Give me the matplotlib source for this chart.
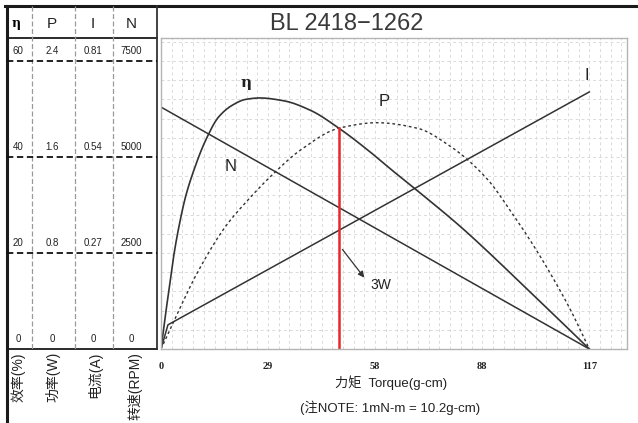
import matplotlib
matplotlib.use('Agg')
import matplotlib.pyplot as plt
import numpy as np

plt.rcParams['font.family'] = ['Liberation Sans', 'Noto Sans CJK SC', 'DejaVu Sans']

W, H = 638, 423

# left-hand scale table, top row first
eff_levels = [60, 40, 20, 0]
power_labels = ['2.4', '1.6', '0.8', '0']
current_labels = ['0.81', '0.54', '0.27', '0']
speed_labels = ['7500', '5000', '2500', '0']
eff_full, power_full, current_full, speed_full = 60, 2.4, 0.81, 7500

torque_ticks = [0, 29.25, 58.5, 87.75, 117]
torque_labels = ['0', '29', '58', '88', '117']

# curves
n_torque = [0, 117]
n_speed = [6300, 0]

i_torque = [0, 1.9, 117]
i_current = [0, 0.068, 0.723]

eta_torque = [0, 1.2, 2.4, 3.6, 4.9, 6.7, 9.0, 12.2, 15.8, 19.5, 23.1, 27,
              33.6, 40.9, 48.6, 56.4, 63.5, 70, 81.8, 100, 117]
eta_value = [0, 7, 13.5, 20, 25.5, 31.7, 37.3, 43.5, 48.4, 50.8, 52.0, 52.3,
             51.7, 49.7, 46, 41.5, 37.0, 33.0, 25.5, 12.5, 0]

p_torque = [0, 5, 10, 17.6, 24, 30, 38.2, 48.6, 59, 70, 79, 89, 95.5,
            101.8, 107.3, 111.8, 117]
p_power = [0, 0.33, 0.64, 1.02, 1.25, 1.44, 1.66, 1.84, 1.886, 1.84, 1.69, 1.42,
           1.15, 0.86, 0.58, 0.33, 0]

mark_torque = 48.7   # red marker line
mark_eff = 46


def smooth(xs, ys, n=400):
    # monotone cubic (Fritsch-Carlson) just for drawing a smooth line through the read points
    x = np.asarray(xs, float)
    y = np.asarray(ys, float)
    h = np.diff(x)
    d = np.diff(y) / h
    m = np.zeros_like(x)
    m[0], m[-1] = d[0], d[-1]
    for k in range(1, len(x) - 1):
        if d[k - 1] * d[k] <= 0:
            m[k] = 0
        else:
            w1 = 2 * h[k] + h[k - 1]
            w2 = h[k] + 2 * h[k - 1]
            m[k] = (w1 + w2) / (w1 / d[k - 1] + w2 / d[k])
    xx = np.linspace(x[0], x[-1], n)
    idx = np.clip(np.searchsorted(x, xx) - 1, 0, len(h) - 1)
    t = (xx - x[idx]) / h[idx]
    h00 = 2 * t**3 - 3 * t**2 + 1
    h10 = t**3 - 2 * t**2 + t
    h01 = -2 * t**3 + 3 * t**2
    h11 = t**3 - t**2
    yy = h00 * y[idx] + h10 * h[idx] * m[idx] + h01 * y[idx + 1] + h11 * h[idx] * m[idx + 1]
    return xx, yy


fig = plt.figure(figsize=(W / 100, H / 100), dpi=100)

# background layer in pixel coordinates for the frame
bg = fig.add_axes([0, 0, 1, 1])
bg.set_xlim(0, W)
bg.set_ylim(H, 0)
bg.axis('off')

x0, x1 = 161, 627
y_top, y_axis = 37.7, 349
ylim_top = (y_axis - y_top) / 4.8
ax = fig.add_axes([x0 / W, (H - y_axis) / H, (x1 - x0) / W, (y_axis - y_top) / H])
ax.set_xlim(0, 127.3)
ax.set_ylim(0, ylim_top)

# light dashed grid
for gx in np.arange(117 / 40, 127.3, 117 / 40):
    ax.axvline(gx, color='#dadada', lw=0.7, ls=(0, (3, 3)), zorder=0)
for gy in np.arange(4, ylim_top, 4):
    ax.axhline(gy, color='#dadada', lw=0.7, ls=(0, (3, 3)), zorder=0)
for s in ax.spines.values():
    s.set_color('#b4b4b4')
    s.set_linewidth(1.0)
ax.set_yticks([])
ax.set_xticks(torque_ticks)
ax.set_xticklabels(torque_labels, family='Liberation Serif', fontsize=7.5, fontweight='bold')
ax.tick_params(axis='x', length=0, pad=9, colors='#222222')

k_p = eff_full / power_full
k_i = eff_full / current_full
k_n = eff_full / speed_full

ax.plot(n_torque, np.array(n_speed) * k_n, color='#333333', lw=1.1)
ax.plot(i_torque, np.array(i_current) * k_i, color='#333333', lw=1.1)
ex, ey = smooth(eta_torque, eta_value)
ax.plot(ex, ey, color='#333333', lw=1.2)
px, py = smooth(p_torque, np.array(p_power) * k_p)
ax.plot(px, py, color='#333333', lw=1.0, ls=(0, (2, 2)))
ax.plot([mark_torque, mark_torque], [0, mark_eff], color='#e8262b', lw=1.8)

ax.annotate('', xy=(56, 14.4), xytext=(49.1, 21.2),
            arrowprops=dict(arrowstyle='-|>', color='#333333', lw=0.9, mutation_scale=9))
ax.text(57.3, 13.3, '3W', fontsize=10, va='center', ha='left', color='#222222')

ax.text(23.2, 55.5, 'η', fontsize=11, fontweight='bold', family='DejaVu Serif',
        ha='center', va='center', color='#222222')
ax.text(61, 51.5, 'P', fontsize=12, ha='center', va='center', color='#222222')
ax.text(116.2, 57, 'I', fontsize=12, ha='center', va='center', color='#222222')
ax.text(19.1, 38, 'N', fontsize=12, ha='center', va='center', color='#222222')

# scale table on the left, sharing the efficiency axis
tab = fig.add_axes([7 / W, (H - y_axis) / H, (157 - 7) / W, (y_axis - y_top) / H], sharey=ax)
tab.set_xlim(7, 157)
tab.axis('off')
col_x = [18, 52, 93, 131]
for lvl, p, c, n in zip(eff_levels, power_labels, current_labels, speed_labels):
    if lvl > 0:
        tab.plot([7, 157], [lvl, lvl], color='#111111', lw=1.3, ls=(0, (3.5, 2)), clip_on=False)
    for cx, txt in zip(col_x, [str(lvl), p, c, n]):
        tab.text(cx, lvl + 1.0, txt, fontsize=7, ha='center', va='bottom', color='#222222')

# frame lines of the table
bg.plot([5, W], [6, 6], color='#1a1a1a', lw=2.2)
bg.plot([7, 7], [6, H], color='#1a1a1a', lw=2.2)
bg.plot([7, 157], [37.7, 37.7], color='#1a1a1a', lw=1.3)
bg.plot([7, 157], [349, 349], color='#1a1a1a', lw=1.3)
bg.plot([157, 157], [6, 349], color='#333333', lw=1.3)
for cx in [32, 75, 113]:
    bg.plot([cx, cx], [6, 349], color='#9a9a9a', lw=0.9, ls=(0, (4, 2)))

for cx, txt in zip(col_x, ['η', 'P', 'I', 'N']):
    if txt == 'η':
        bg.text(cx - 2, 24, txt, fontsize=9, fontweight='bold', family='DejaVu Serif',
                ha='center', va='center')
    else:
        bg.text(cx, 24, txt, fontsize=11, ha='center', va='center', color='#222222')

for cx, txt in zip([18, 53, 95, 135], ['效率(%)', '功率(W)', '电流(A)', '转速(RPM)']):
    bg.text(cx, 352, txt, fontsize=10, rotation=90, ha='center', va='top', color='#222222')

bg.text(347, 24, 'BL 2418−1262', fontsize=17, ha='center', va='center', color='#3a3a3a')
bg.text(391, 383, '力矩  Torque(g-cm)', fontsize=9.5, ha='center', va='center', color='#222222')
bg.text(390, 408, '(注NOTE: 1mN-m = 10.2g-cm)', fontsize=9.5, ha='center', va='center',
        color='#222222')

fig.savefig('out.png', dpi=100)
